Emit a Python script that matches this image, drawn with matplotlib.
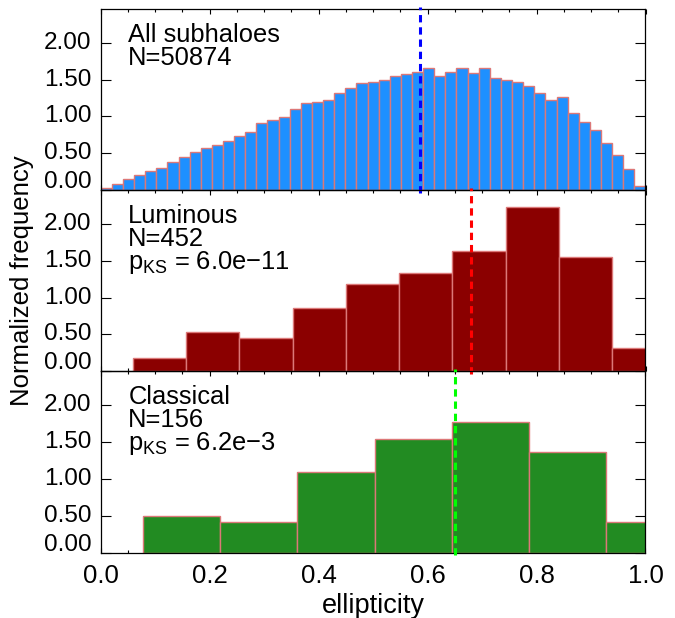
import numpy as np
import matplotlib
matplotlib.use("Agg")
import matplotlib.pyplot as plt
import matplotlib.transforms as mtransforms
from matplotlib.ticker import MultipleLocator

plt.rcParams["font.family"] = ["Liberation Sans", "DejaVu Sans"]
plt.rcParams["mathtext.fontset"] = "custom"
plt.rcParams["mathtext.rm"] = "Liberation Sans"
plt.rcParams["mathtext.it"] = "Liberation Sans:italic"

# ---- histogram data (normalized frequency per ellipticity bin) ----
all_lo, all_width = 0.0, 1.0 / 49
all_heights = [0.036, 0.081, 0.149, 0.203, 0.266, 0.306, 0.387, 0.455, 0.514, 0.577,
               0.608, 0.662, 0.739, 0.788, 0.910, 0.946, 0.986, 1.095, 1.180, 1.194,
               1.221, 1.324, 1.387, 1.455, 1.468, 1.491, 1.550, 1.581, 1.595, 1.662,
               1.554, 1.595, 1.662, 1.586, 1.649, 1.527, 1.500, 1.473, 1.414, 1.324,
               1.221, 1.261, 1.045, 0.928, 0.811, 0.640, 0.482, 0.293, 0.063]
all_median = 0.586

lum_lo, lum_width = 0.0587, 0.0978
lum_heights = [0.185, 0.527, 0.459, 0.865, 1.180, 1.338, 1.631, 2.221, 1.545, 0.320]
lum_median = 0.680

cls_lo, cls_width = 0.0782, 0.1415
cls_heights = [0.500, 0.414, 1.090, 1.541, 1.766, 1.360, 0.414]
cls_median = 0.651

panel_titles = [["All subhaloes", "N=50874"],
                ["Luminous", "N=452", "p$_{\\mathrm{KS}}$ = 6.0e\u221211"],
                ["Classical", "N=156", "p$_{\\mathrm{KS}}$ = 6.2e\u22123"]]

ytick_vals = [0.0, 0.5, 1.0, 1.5, 2.0]
ytick_labels = ["0.00", "0.50", "1.00", "1.50", "2.00"]
xtick_vals = [0.0, 0.2, 0.4, 0.6, 0.8, 1.0]
xtick_labels = ["0.0", "0.2", "0.4", "0.6", "0.8", "1.0"]

panels = [
    (all_lo, all_width, all_heights, all_median, "#1E90FF", "#0000FF"),
    (lum_lo, lum_width, lum_heights, lum_median, "#8B0000", "#FF0000"),
    (cls_lo, cls_width, cls_heights, cls_median, "#228B22", "#00FF00"),
]

W, H = 675, 618
fig = plt.figure(figsize=(W / 100, H / 100), dpi=100)
fig.patch.set_facecolor("white")

ax_left = 100.7 / W
ax_width = (645.5 - 100.7) / W
top_px = 9.3
panel_px = 181.07

# baselines of the annotation lines, pixels below each panel's top edge
line_offsets = [33.0, 55.3, 79.0]

axes = []
for i, (lo, width, heights, median, fc, lc) in enumerate(panels):
    y_top = top_px + i * panel_px
    ax = fig.add_axes([ax_left, (H - y_top - panel_px) / H, ax_width, panel_px / H])
    ax.patch.set_visible(False)
    axes.append(ax)

    edges = lo + width * np.arange(len(heights) + 1)
    ax.bar(edges[:-1], heights, width=width, align="edge", color=fc,
           edgecolor="#DC7878", linewidth=1.0, zorder=2)

    ax.axvline(median, ymin=-0.015, ymax=1.015, color=lc, lw=2.2,
               linestyle=(0, (2.4, 1.6)), clip_on=False, zorder=5)

    ax.set_xlim(0, 1)
    ax.set_ylim(0, 2.45)
    ax.xaxis.set_major_locator(MultipleLocator(0.2))
    ax.xaxis.set_minor_locator(MultipleLocator(0.05))
    ax.set_yticks(ytick_vals)
    ax.set_yticklabels([])
    ax.tick_params(axis="x", which="major", direction="in", top=True, bottom=True,
                   length=3.8, width=0.8)
    ax.tick_params(axis="x", which="minor", direction="in", top=True, bottom=True,
                   length=2.0, width=0.8)
    ax.tick_params(axis="y", which="major", direction="in", left=True, right=True,
                   length=7.2, width=0.8)
    for s in ax.spines.values():
        s.set_linewidth(0.9)

    # y tick labels; the zero label sits a little above its tick
    for v, lab in zip(ytick_vals, ytick_labels):
        dy = 8 if v == 0.0 else 0
        tr = mtransforms.offset_copy(ax.get_yaxis_transform(), fig=fig,
                                     x=-9, y=dy, units="dots")
        ax.text(0, v, lab, transform=tr, ha="right", va="center", fontsize=17.5)

    # panel annotations
    for j, line in enumerate(panel_titles[i]):
        yb = 1 - line_offsets[j] / panel_px
        ax.text(0.0507, yb, line, transform=ax.transAxes, ha="left",
                va="baseline", fontsize=18.4, zorder=6)

    if i < 2:
        ax.set_xticklabels([])
    else:
        ax.set_xticks(xtick_vals)
        ax.set_xticklabels(xtick_labels, fontsize=18.5)
        ax.tick_params(axis="x", which="major", pad=8)

fig.text(373 / W, (H - 606) / H, "ellipticity", ha="center", va="center",
         fontsize=19.5)
fig.text(22 / W, (H - 281) / H, "Normalized frequency", rotation=90,
         ha="center", va="center", fontsize=18.5)

fig.savefig("out.png", dpi=100)
